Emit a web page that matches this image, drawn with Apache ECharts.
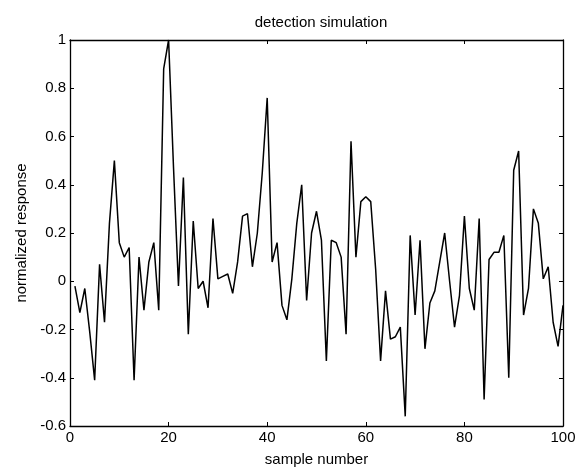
<!DOCTYPE html>
<html>
<head>
<meta charset="utf-8">
<script src="https://cdn.jsdelivr.net/npm/echarts@6/dist/echarts.min.js"></script>
<style>
html,body{margin:0;padding:0;background:#fff;}
#chart{width:583px;height:472px;}
</style>
</head>
<body>
<div id="chart"></div>
<script>
// sample numbers 1..100
var samples = [1,2,3,4,5,6,7,8,9,10,11,12,13,14,15,16,17,18,19,20,
  21,22,23,24,25,26,27,28,29,30,31,32,33,34,35,36,37,38,39,40,
  41,42,43,44,45,46,47,48,49,50,51,52,53,54,55,56,57,58,59,60,
  61,62,63,64,65,66,67,68,69,70,71,72,73,74,75,76,77,78,79,80,
  81,82,83,84,85,86,87,88,89,90,91,92,93,94,95,96,97,98,99,100];
// normalized response values
var response = [-0.02,-0.13,-0.03,-0.21,-0.41,0.07,-0.17,0.24,0.50,0.16,
  0.10,0.14,-0.41,0.10,-0.12,0.08,0.16,-0.12,0.88,1.00,
  0.47,-0.02,0.43,-0.22,0.25,-0.03,0.00,-0.11,0.26,0.01,
  0.02,0.03,-0.05,0.08,0.27,0.28,0.06,0.20,0.45,0.76,
  0.08,0.16,-0.10,-0.16,0.01,0.24,0.40,-0.08,0.20,0.29,
  0.17,-0.33,0.17,0.16,0.10,-0.22,0.58,0.10,0.33,0.35,
  0.33,0.05,-0.33,-0.04,-0.24,-0.23,-0.19,-0.56,0.19,-0.14,
  0.17,-0.28,-0.09,-0.04,0.08,0.20,0.00,-0.19,-0.06,0.27,
  -0.03,-0.12,0.26,-0.49,0.09,0.12,0.12,0.19,-0.40,0.46,
  0.54,-0.14,-0.03,0.30,0.24,0.01,0.06,-0.17,-0.27,-0.10];
var xTicks = [0,20,40,60,80,100];
var yTicks = [-0.6,-0.4,-0.2,0,0.2,0.4,0.6,0.8,1];
var titleText = 'detection simulation';
var xName = 'sample number';
var yName = 'normalized response';

var FONT = 'Liberation Sans';
var data = samples.map(function(s,i){return [s,response[i]];});
var lineStyle = {color:'#000',width:1.5};
function fmt(v){return String(+(+v).toFixed(1));}

var chart = echarts.init(document.getElementById('chart'),null,{renderer:'canvas'});
chart.setOption({
  animation:false,
  backgroundColor:'#fff',
  title:{text:titleText,left:316,textAlign:'center',top:10,
    textStyle:{fontFamily:FONT,fontSize:15,fontWeight:'normal',color:'#000'}},
  grid:{left:70,right:20,top:40,bottom:44,containLabel:false},
  xAxis:[{
    type:'value',min:xTicks[0],max:xTicks[xTicks.length-1],interval:20,
    name:xName,nameLocation:'middle',nameGap:26,
    nameTextStyle:{fontFamily:FONT,fontSize:15,color:'#000'},
    axisLine:{show:true,onZero:false,lineStyle:{color:'#000',width:1.3}},
    axisTick:{show:true,inside:true,length:4,lineStyle:{color:'#000'}},
    axisLabel:{fontFamily:FONT,fontSize:15,color:'#000',margin:4,formatter:fmt},
    splitLine:{show:false}
  },{
    type:'value',position:'top',min:xTicks[0],max:xTicks[xTicks.length-1],interval:20,
    axisLine:{show:true,onZero:false,lineStyle:{color:'#000',width:1.3}},
    axisTick:{show:true,inside:true,length:4,lineStyle:{color:'#000'}},
    axisLabel:{show:false},splitLine:{show:false}
  }],
  yAxis:[{
    type:'value',min:yTicks[0],max:yTicks[yTicks.length-1],interval:0.2,
    name:yName,nameLocation:'middle',nameGap:40,
    nameTextStyle:{fontFamily:FONT,fontSize:15,color:'#000'},
    axisLine:{show:true,onZero:false,lineStyle:{color:'#000',width:1.3}},
    axisTick:{show:true,inside:true,length:4,lineStyle:{color:'#000'}},
    axisLabel:{fontFamily:FONT,fontSize:15,color:'#000',margin:4,formatter:fmt},
    splitLine:{show:false}
  },{
    type:'value',position:'right',min:yTicks[0],max:yTicks[yTicks.length-1],interval:0.2,
    axisLine:{show:true,onZero:false,lineStyle:{color:'#000',width:1.3}},
    axisTick:{show:true,inside:true,length:4,lineStyle:{color:'#000'}},
    axisLabel:{show:false},splitLine:{show:false}
  }],
  series:[{
    type:'line',data:data,xAxisIndex:0,yAxisIndex:0,
    showSymbol:false,symbol:'none',lineStyle:lineStyle,
    itemStyle:{color:'#000'}
  }]
});
</script>
</body>
</html>
